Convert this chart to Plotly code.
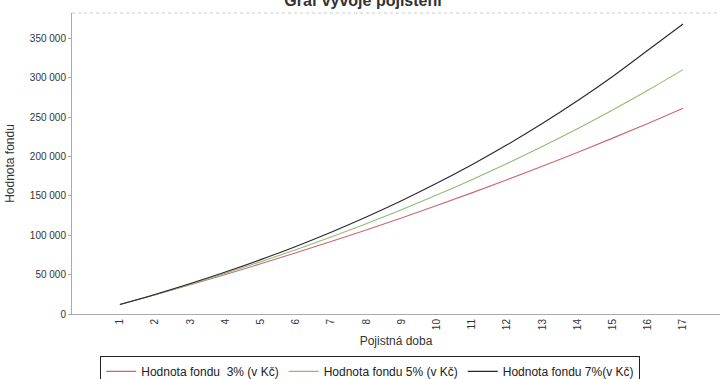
import plotly.graph_objects as go

years = list(range(1, 18))
fund_3 = [12000, 24400, 37100, 50200, 63700, 77600, 92000, 106700, 121900,
          137600, 153700, 170300, 187400, 205000, 223200, 241900, 261100]
fund_5 = [12000, 24600, 37800, 51700, 66300, 81600, 97700, 114600, 132300,
          150900, 170500, 191000, 212600, 235200, 258900, 283900, 310100]
fund_7 = [12000, 24800, 38600, 53300, 69000, 85800, 103800, 123100, 143700,
          165800, 189400, 214700, 241700, 270600, 301500, 334700, 368000]

names = ["Hodnota fondu  3% (v Kč)", "Hodnota fondu 5% (v Kč)", "Hodnota fondu 7%(v Kč)"]
colors = ["#cc6677", "#8cbf70", "#262638"]

fig = go.Figure()
for vals, name, col in zip([fund_3, fund_5, fund_7], names, colors):
    fig.add_trace(go.Scatter(x=years, y=vals, mode="lines", name=name,
                             line=dict(color=col, width=1.1, shape="spline")))

fig.update_layout(
    width=726, height=379,
    margin=dict(l=72, r=6, t=13, b=65),
    paper_bgcolor="white", plot_bgcolor="white",
    separators=", ",
    font=dict(family="Liberation Sans, Arial, sans-serif", size=10, color="#333333"),
    title=dict(text="<b>Graf vývoje pojištění</b>", x=0.5, xanchor="center",
               y=1.0, yref="container", yanchor="middle",
               font=dict(size=16, color="#333333")),
    showlegend=True,
    legend=dict(orientation="h", xref="container", x=0.51, xanchor="center",
                yref="container", y=0.061, yanchor="top",
                bordercolor="#222222", borderwidth=1, bgcolor="white",
                font=dict(size=12, color="#222222"), itemwidth=30,
                traceorder="normal"),
    xaxis=dict(range=[-0.36, 18.05], tickvals=years, ticktext=[str(y) for y in years],
               tickangle=-90, showgrid=False, zeroline=False, showline=True,
               linecolor="#aaaaaa", linewidth=1, ticks="", automargin=False,
               title=dict(text="Pojistná doba", font=dict(size=12, color="#333333"), standoff=7)),
    yaxis=dict(range=[0, 382000], tickvals=[0, 50000, 100000, 150000, 200000, 250000, 300000, 350000],
               tickformat=",d", showgrid=False, zeroline=False, showline=True,
               linecolor="#aaaaaa", linewidth=1, ticks="outside", ticklen=3,
               tickcolor="#aaaaaa", automargin=False,
               title=dict(text="Hodnota fondu", font=dict(size=12, color="#333333"), standoff=12)),
    shapes=[dict(type="line", xref="paper", yref="paper", x0=0, x1=1, y0=1, y1=1,
                 line=dict(color="#cccccc", width=1, dash="dot"))],
)

fig.write_html("out.html", config={"displayModeBar": False},
               post_script="document.body.style.margin='0';document.body.style.overflow='hidden';")
